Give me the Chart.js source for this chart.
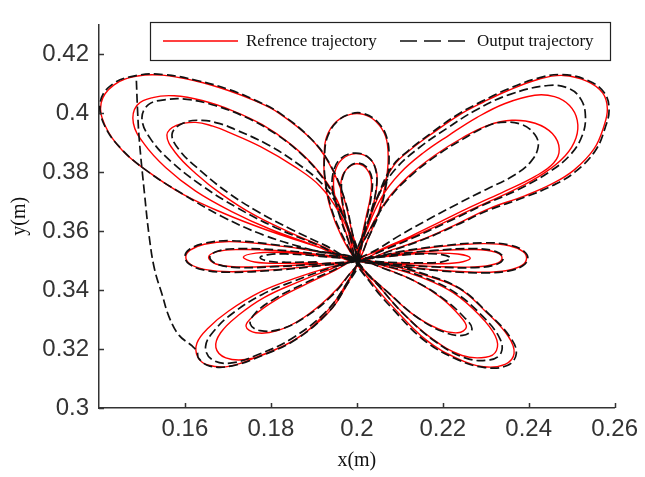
<!DOCTYPE html>
<html>
<head>
<meta charset="utf-8">
<script src="https://cdn.jsdelivr.net/npm/chart.js@4.4.1/dist/chart.umd.min.js"></script>
<style>
	html, body { margin: 0; padding: 0; background: #fff; }
	#plot { display: block; }
</style>
</head>
<body>
<canvas id="plot" width="645" height="477"></canvas>
<script>
// Axis ticks and labels
const xTicks = [0.16, 0.18, 0.2, 0.22, 0.24, 0.26];
const yTicks = [0.3, 0.32, 0.34, 0.36, 0.38, 0.4, 0.42];
const xTitle = "x(m)";
const yTitle = "y(m)";
const legendLabels = ["Refrence trajectory", "Output trajectory"];

// Reference trajectory, one lobe group at a time (each loop starts and ends at the centre)
const refUpperLeft = [
	[0.2,0.35],[0.19,0.355],[0.1787,0.3605],[0.169,0.366],[0.1598,0.3722],[0.152,0.3795],[0.1455,0.3872],[0.1415,0.3955],[0.1405,0.4034],[0.1435,0.4095],[0.149,0.4125],[0.1547,0.4128],[0.1625,0.4108],[0.1701,0.4076],[0.1765,0.404],[0.1816,0.4002],[0.1892,0.3914],[0.1935,0.383],[0.1968,0.372],[0.1988,0.36],
	[0.2,0.35],[0.19,0.3552],[0.18,0.3605],[0.171,0.3665],[0.1625,0.3735],[0.1555,0.3815],[0.1505,0.3895],[0.148,0.3965],[0.1488,0.4025],[0.1525,0.4052],[0.1575,0.4058],[0.164,0.4042],[0.171,0.4008],[0.178,0.396],[0.1845,0.3895],[0.19,0.382],[0.1945,0.373],[0.1978,0.362],
	[0.2,0.35],[0.192,0.3548],[0.184,0.3598],[0.176,0.3655],[0.1685,0.3725],[0.1625,0.3795],[0.1578,0.3865],[0.1558,0.3925],[0.158,0.3958],[0.1625,0.3968],[0.1665,0.3955],[0.1701,0.3935],[0.1777,0.3885],[0.1855,0.3818],[0.1915,0.3751],[0.196,0.366],[0.1985,0.358],
];
const refUpperRight = [
	[0.2,0.35],[0.2025,0.362],[0.2055,0.3735],[0.2085,0.382],[0.2122,0.3872],[0.218,0.3935],[0.2237,0.3992],[0.2295,0.4037],[0.2352,0.4076],[0.2425,0.4115],[0.248,0.4127],[0.2535,0.4108],[0.2572,0.4068],[0.2583,0.4015],[0.2575,0.3955],[0.2552,0.3878],[0.2506,0.3807],[0.2455,0.376],[0.2391,0.3719],[0.2308,0.3676],[0.2235,0.3625],[0.2166,0.3579],[0.208,0.3535],
	[0.2,0.35],[0.2025,0.361],[0.2058,0.3715],[0.21,0.3795],[0.2155,0.3865],[0.2215,0.3925],[0.228,0.3985],[0.2345,0.4032],[0.2414,0.406],[0.246,0.4055],[0.2495,0.4025],[0.2513,0.3975],[0.251,0.3915],[0.2485,0.3855],[0.2435,0.3795],[0.2365,0.3738],[0.2285,0.3685],[0.2205,0.363],[0.213,0.358],[0.2065,0.354],
	[0.2,0.35],[0.203,0.3605],[0.207,0.3705],[0.212,0.3785],[0.218,0.3855],[0.2245,0.3915],[0.2305,0.3958],[0.2361,0.3975],[0.2415,0.3965],[0.2455,0.393],[0.2471,0.3878],[0.2458,0.383],[0.2415,0.3785],[0.2345,0.3735],[0.227,0.3685],[0.2195,0.3632],[0.2125,0.3582],[0.206,0.354],
];
const refTop = [
	[0.2,0.35],[0.1965,0.358],[0.1938,0.368],[0.1925,0.378],[0.1924,0.386],[0.193,0.392],[0.1952,0.397],[0.1985,0.3995],[0.2015,0.3995],[0.2045,0.397],[0.2067,0.392],[0.2073,0.385],[0.2068,0.377],[0.2052,0.367],[0.2028,0.358],
	[0.2,0.35],[0.1978,0.358],[0.196,0.366],[0.1947,0.3735],[0.1948,0.3795],[0.1965,0.3842],[0.1998,0.3862],[0.203,0.3845],[0.2046,0.38],[0.2045,0.3735],[0.2033,0.366],[0.2017,0.358],
	[0.2,0.35],[0.1985,0.357],[0.1972,0.365],[0.1963,0.3725],[0.1965,0.378],[0.198,0.3815],[0.2,0.3828],[0.202,0.3815],[0.2033,0.3778],[0.2032,0.372],[0.2022,0.365],[0.201,0.357],
];
const refSideLeft = [
	[0.2,0.35],[0.19,0.3532],[0.18,0.3553],[0.1705,0.3564],[0.1645,0.3555],[0.1612,0.3535],[0.1602,0.3512],[0.1612,0.3488],[0.1645,0.347],[0.1705,0.3462],[0.18,0.3468],[0.19,0.3482],
	[0.2,0.35],[0.19,0.3522],[0.181,0.3534],[0.1725,0.3537],[0.1675,0.353],[0.1655,0.3511],[0.1672,0.3488],[0.1725,0.3478],[0.181,0.3481],[0.19,0.3488],
	[0.2,0.35],[0.191,0.3516],[0.1825,0.3527],[0.1765,0.3525],[0.1736,0.3511],[0.1762,0.3495],[0.1825,0.349],[0.191,0.3493],
];
const refSideRight = [
	[0.2,0.35],[0.21,0.3528],[0.22,0.3548],[0.2295,0.3557],[0.2355,0.355],[0.2387,0.353],[0.2395,0.3507],[0.2385,0.3484],[0.235,0.3466],[0.2295,0.346],[0.22,0.3466],[0.21,0.3482],
	[0.2,0.35],[0.209,0.352],[0.218,0.3532],[0.2275,0.3537],[0.2322,0.3528],[0.2338,0.3508],[0.2322,0.3488],[0.2275,0.3478],[0.218,0.348],[0.209,0.3488],
	[0.2,0.35],[0.208,0.3515],[0.2165,0.3524],[0.2235,0.3522],[0.2264,0.3508],[0.2238,0.3493],[0.2165,0.3489],[0.208,0.3492],
];
const refLowerLeft = [
	[0.2,0.35],[0.1931,0.3475],[0.1855,0.3439],[0.1777,0.3394],[0.1701,0.3328],[0.1655,0.3272],[0.1628,0.322],[0.163,0.3172],[0.1655,0.3145],[0.1705,0.3142],[0.1777,0.3179],[0.1855,0.3231],[0.1931,0.3319],[0.1972,0.3405],
	[0.2,0.35],[0.1935,0.3468],[0.186,0.3425],[0.1785,0.3375],[0.1725,0.3315],[0.1683,0.3255],[0.1672,0.3205],[0.1695,0.317],[0.1745,0.3165],[0.181,0.3197],[0.1875,0.325],[0.1935,0.3335],[0.1975,0.342],
	[0.2,0.35],[0.194,0.346],[0.1875,0.3415],[0.181,0.3365],[0.1762,0.3315],[0.1742,0.3278],[0.1765,0.3255],[0.1815,0.3262],[0.1875,0.3305],[0.1935,0.3375],[0.1978,0.3445],
];
const refLowerRight = [
	[0.2,0.35],[0.2085,0.3481],[0.2161,0.3449],[0.2237,0.3406],[0.2299,0.3328],[0.2352,0.3244],[0.2366,0.3185],[0.2345,0.3148],[0.2295,0.314],[0.2237,0.3166],[0.2161,0.3231],[0.2085,0.3341],[0.2035,0.3425],
	[0.2,0.35],[0.208,0.3475],[0.2155,0.344],[0.2225,0.339],[0.2285,0.3315],[0.2322,0.3245],[0.2325,0.3195],[0.23,0.3172],[0.2245,0.3178],[0.2175,0.3235],[0.2105,0.3325],[0.205,0.3415],
	[0.2,0.35],[0.207,0.347],[0.2135,0.343],[0.2195,0.3375],[0.2238,0.3315],[0.2255,0.3275],[0.2235,0.3255],[0.219,0.3268],[0.213,0.3318],[0.207,0.3395],[0.2025,0.3455],
	[0.2,0.35],
];

// Output trajectory: start-up transient, then the tracked lobes
const outStart = [
	[0.1487,0.4109],[0.149,0.40],[0.1494,0.3904],[0.1506,0.3725],[0.1517,0.3579],[0.1529,0.3472],[0.1547,0.3384],[0.1563,0.3309],[0.1586,0.3247],[0.1616,0.3211],[0.1628,0.3192],[0.1632,0.3168],[0.1658,0.3142],[0.171,0.3143],[0.178,0.3178],[0.1858,0.3232],[0.1932,0.3322],[0.1973,0.3408],
];
const outUpperLeft = [
	[0.2,0.35],[0.1905,0.3532],[0.1785,0.3585],[0.1685,0.365],[0.1595,0.3725],[0.1515,0.38],[0.1452,0.3878],[0.1412,0.396],[0.1403,0.4038],[0.1432,0.4098],[0.1488,0.4127],[0.155,0.413],[0.1628,0.411],[0.1705,0.4078],[0.1768,0.404],[0.182,0.4],[0.1895,0.391],[0.1938,0.3825],[0.197,0.3715],[0.1989,0.3598],
	[0.2,0.35],[0.1905,0.3555],[0.181,0.3612],[0.172,0.368],[0.1638,0.3755],[0.1568,0.3835],[0.152,0.3912],[0.15,0.398],[0.1515,0.4028],[0.1555,0.4045],[0.1605,0.4046],[0.167,0.4025],[0.1742,0.3985],[0.181,0.393],[0.187,0.3862],[0.1918,0.3785],[0.1955,0.3695],[0.1982,0.36],
	[0.2,0.35],[0.1925,0.3552],[0.1848,0.3605],[0.177,0.3665],[0.1698,0.3732],[0.1638,0.3802],[0.1588,0.3872],[0.157,0.3928],[0.1595,0.3965],[0.164,0.3975],[0.1685,0.3962],[0.1715,0.3945],[0.1792,0.3893],[0.1865,0.3825],[0.1922,0.3755],[0.1963,0.3665],[0.1987,0.3582],
];
const outUpperRight = [
	[0.2,0.35],[0.2023,0.3615],[0.2052,0.373],[0.2082,0.3818],[0.2118,0.387],[0.2176,0.3935],[0.2234,0.3994],[0.2292,0.404],[0.235,0.408],[0.2422,0.4118],[0.2478,0.413],[0.2538,0.411],[0.2576,0.4068],[0.2587,0.4012],[0.2578,0.395],[0.2555,0.3872],[0.2508,0.38],[0.2457,0.3755],[0.2392,0.3715],[0.2306,0.367],[0.2232,0.362],[0.2162,0.3575],[0.2078,0.3532],
	[0.2,0.35],[0.2022,0.3615],[0.2052,0.3725],[0.209,0.381],[0.2145,0.3882],[0.221,0.3948],[0.228,0.4012],[0.2355,0.4062],[0.2445,0.4093],[0.2495,0.4082],[0.2522,0.4045],[0.2532,0.399],[0.2525,0.3925],[0.2498,0.386],[0.2448,0.38],[0.2375,0.374],[0.229,0.3685],[0.2208,0.3628],[0.213,0.3576],[0.2062,0.3535],
	[0.2,0.35],[0.2032,0.3608],[0.2075,0.371],[0.2128,0.379],[0.2188,0.3858],[0.2248,0.3912],[0.2298,0.3952],[0.2335,0.3968],[0.2385,0.396],[0.2415,0.3925],[0.2422,0.3885],[0.2405,0.3835],[0.2365,0.3788],[0.23,0.374],[0.2232,0.369],[0.2165,0.3638],[0.21,0.3585],[0.2048,0.3538],
];
const outTop = [
	[0.2,0.35],[0.1968,0.358],[0.194,0.368],[0.1926,0.378],[0.1925,0.386],[0.1932,0.392],[0.1955,0.3972],[0.1988,0.3998],[0.2018,0.3997],[0.2048,0.397],[0.2069,0.392],[0.2075,0.385],[0.207,0.377],[0.2054,0.367],[0.2028,0.358],
	[0.2,0.35],[0.1977,0.358],[0.1958,0.366],[0.1944,0.3738],[0.1945,0.3798],[0.1962,0.3845],[0.1996,0.3864],[0.2029,0.3847],[0.2045,0.38],[0.2044,0.3732],[0.2032,0.366],[0.2016,0.358],
	[0.2,0.35],[0.1986,0.357],[0.1973,0.365],[0.1965,0.3722],[0.1967,0.3782],[0.1982,0.3818],[0.2002,0.383],[0.2022,0.3817],[0.2035,0.378],[0.2034,0.3722],[0.2024,0.365],[0.2011,0.357],
];
const outSideLeft = [
	[0.2,0.35],[0.19,0.3534],[0.18,0.3555],[0.1705,0.3567],[0.1645,0.3558],[0.161,0.3537],[0.16,0.3513],[0.161,0.3488],[0.1643,0.3468],[0.1705,0.346],[0.18,0.3466],[0.19,0.348],
	[0.2,0.35],[0.19,0.3523],[0.181,0.3536],[0.1725,0.354],[0.1677,0.3532],[0.1658,0.3512],[0.1674,0.3488],[0.1725,0.3476],[0.181,0.3479],[0.19,0.3487],
	[0.2,0.35],[0.1915,0.3514],[0.1835,0.3522],[0.1795,0.352],[0.1775,0.351],[0.1795,0.3497],[0.1835,0.3494],[0.1915,0.3495],
];
const outSideRight = [
	[0.2,0.35],[0.21,0.353],[0.22,0.355],[0.2295,0.356],[0.2357,0.3552],[0.2389,0.3531],[0.2398,0.3507],[0.2387,0.3483],[0.2352,0.3464],[0.2295,0.3458],[0.22,0.3464],[0.21,0.348],
	[0.2,0.35],[0.209,0.3521],[0.218,0.3534],[0.2275,0.354],[0.2324,0.353],[0.2341,0.3508],[0.2324,0.3486],[0.2275,0.3476],[0.218,0.3478],[0.209,0.3487],
	[0.2,0.35],[0.2075,0.3514],[0.215,0.3522],[0.2198,0.352],[0.2218,0.3508],[0.2198,0.3495],[0.215,0.3492],[0.2075,0.3494],
];
const outLowerLeft = [
	[0.2,0.35],[0.1933,0.3472],[0.1857,0.3432],[0.178,0.3385],[0.1712,0.3322],[0.1668,0.3262],[0.1648,0.3208],[0.1662,0.3165],[0.1705,0.3152],[0.1772,0.3182],[0.1848,0.3235],[0.1925,0.3322],[0.1972,0.3412],
	[0.2,0.35],[0.1938,0.3462],[0.1872,0.3418],[0.1806,0.3368],[0.1764,0.3322],[0.1752,0.3285],[0.1775,0.3262],[0.1825,0.3268],[0.1882,0.331],[0.194,0.3378],[0.198,0.3448],
];
const outLowerRight = [
	[0.2,0.35],[0.2087,0.3482],[0.2163,0.3451],[0.224,0.3405],[0.2303,0.3325],[0.2357,0.324],[0.2371,0.3183],[0.235,0.3144],[0.2298,0.3137],[0.2236,0.3163],[0.2158,0.3228],[0.2082,0.3338],[0.2033,0.3422],
	[0.2,0.35],[0.2082,0.3476],[0.2158,0.3442],[0.223,0.339],[0.2292,0.3312],[0.2332,0.3238],[0.2336,0.3188],[0.231,0.3163],[0.2252,0.317],[0.218,0.3228],[0.2108,0.332],[0.2052,0.3412],
	[0.2,0.35],[0.2072,0.3468],[0.214,0.3426],[0.2202,0.337],[0.2248,0.331],[0.2268,0.3268],[0.2246,0.3246],[0.2198,0.326],[0.2136,0.3312],[0.2074,0.339],[0.2027,0.3452],
	[0.2,0.35],
];

const RED = "#ff0000";
const DARK = "#111111";
const AXIS = "#333333";
const SANS = "'Liberation Sans', Arial, sans-serif";
const SERIF = "'Liberation Serif', 'Times New Roman', serif";

// Join lobe groups into one {x, y} series
const toPoints = (...groups) => groups.flat().map(([x, y]) => ({ x, y }));

// Inward tick marks on the left and bottom axes
const innerTicksPlugin = {
	id: "innerTicks",
	afterDraw: (chart) => {
		const { ctx, chartArea, scales } = chart;
		ctx.save();
		ctx.strokeStyle = AXIS;
		ctx.lineWidth = 1.5;
		ctx.beginPath();
		xTicks.forEach((v) => {
			const px = Math.round(scales.x.getPixelForValue(v)) + 0.5;
			ctx.moveTo(px, chartArea.bottom);
			ctx.lineTo(px, chartArea.bottom - 5);
		});
		yTicks.forEach((v) => {
			const py = Math.round(scales.y.getPixelForValue(v)) + 0.5;
			ctx.moveTo(chartArea.left, py);
			ctx.lineTo(chartArea.left + 5, py);
		});
		ctx.stroke();
		ctx.restore();
	},
};

// Boxed legend across the top of the plot
const boxLegendPlugin = {
	id: "boxLegend",
	afterDraw: (chart) => {
		const ctx = chart.ctx;
		const box = { x: 150, y: 22, w: 460, h: 38 };
		const midY = box.y + 19;
		ctx.save();
		ctx.fillStyle = "#fff";
		ctx.fillRect(box.x, box.y, box.w, box.h);
		ctx.strokeStyle = "#222";
		ctx.lineWidth = 1.2;
		ctx.strokeRect(box.x + 0.5, box.y + 0.5, box.w, box.h);

		ctx.lineWidth = 1.3;
		ctx.strokeStyle = RED;
		ctx.beginPath();
		ctx.moveTo(163, midY);
		ctx.lineTo(238, midY);
		ctx.stroke();

		ctx.strokeStyle = DARK;
		ctx.setLineDash([17, 7]);
		ctx.beginPath();
		ctx.moveTo(400, midY);
		ctx.lineTo(470, midY);
		ctx.stroke();
		ctx.setLineDash([]);

		ctx.fillStyle = DARK;
		ctx.font = `17px ${SERIF}`;
		ctx.textBaseline = "middle";
		ctx.textAlign = "left";
		ctx.fillText(legendLabels[0], 246, midY + 1);
		ctx.fillText(legendLabels[1], 477, midY + 1);
		ctx.restore();
	},
};

Chart.defaults.font.family = SANS;

new Chart(document.getElementById("plot"), {
	type: "scatter",
	data: {
		datasets: [
			{
				label: legendLabels[0],
				data: toPoints(refUpperLeft, refTop, refUpperRight, refSideRight, refLowerRight, refLowerLeft, refSideLeft),
				showLine: true,
				borderColor: RED,
				borderWidth: 1.4,
				tension: 0.4,
				pointRadius: 0,
				order: 2,
			},
			{
				label: legendLabels[1],
				data: toPoints(outStart, outUpperLeft, outTop, outUpperRight, outSideRight, outLowerRight, outLowerLeft, outSideLeft),
				showLine: true,
				borderColor: DARK,
				borderWidth: 1.7,
				borderDash: [9, 4],
				tension: 0.4,
				pointRadius: 0,
				order: 1,
			},
		],
	},
	options: {
		responsive: false,
		animation: false,
		devicePixelRatio: 1,
		events: [],
		layout: { padding: { left: 0, top: 8, right: 24, bottom: 0 } },
		plugins: {
			legend: { display: false },
			tooltip: { enabled: false },
		},
		scales: {
			x: {
				type: "linear",
				min: 0.14,
				max: 0.26,
				afterBuildTicks: (scale) => {
					scale.ticks = xTicks.map((value) => ({ value }));
				},
				afterFit: (scale) => {
					scale.height = 69;
				},
				ticks: {
					font: { size: 24, family: SANS },
					color: AXIS,
					padding: 7,
					maxRotation: 0,
					autoSkip: false,
					callback: (value) => String(value),
				},
				grid: { display: false, drawTicks: false },
				border: { display: true, color: AXIS, width: 1.5 },
				title: {
					display: true,
					text: xTitle,
					font: { size: 20, family: SERIF },
					color: DARK,
					padding: { top: 0, bottom: 4 },
				},
			},
			y: {
				type: "linear",
				min: 0.3,
				max: 0.43,
				afterBuildTicks: (scale) => {
					scale.ticks = yTicks.map((value) => ({ value }));
				},
				afterFit: (scale) => {
					scale.width = 99;
				},
				ticks: {
					font: { size: 24, family: SANS },
					color: AXIS,
					padding: 10,
					autoSkip: false,
					callback: (value) => String(value),
				},
				grid: { display: false, drawTicks: false },
				border: { display: true, color: AXIS, width: 1.5 },
				title: {
					display: true,
					text: yTitle,
					font: { size: 20, family: SERIF },
					color: DARK,
					padding: { top: 8, bottom: 0 },
				},
			},
		},
	},
	plugins: [innerTicksPlugin, boxLegendPlugin],
});
</script>
</body>
</html>
